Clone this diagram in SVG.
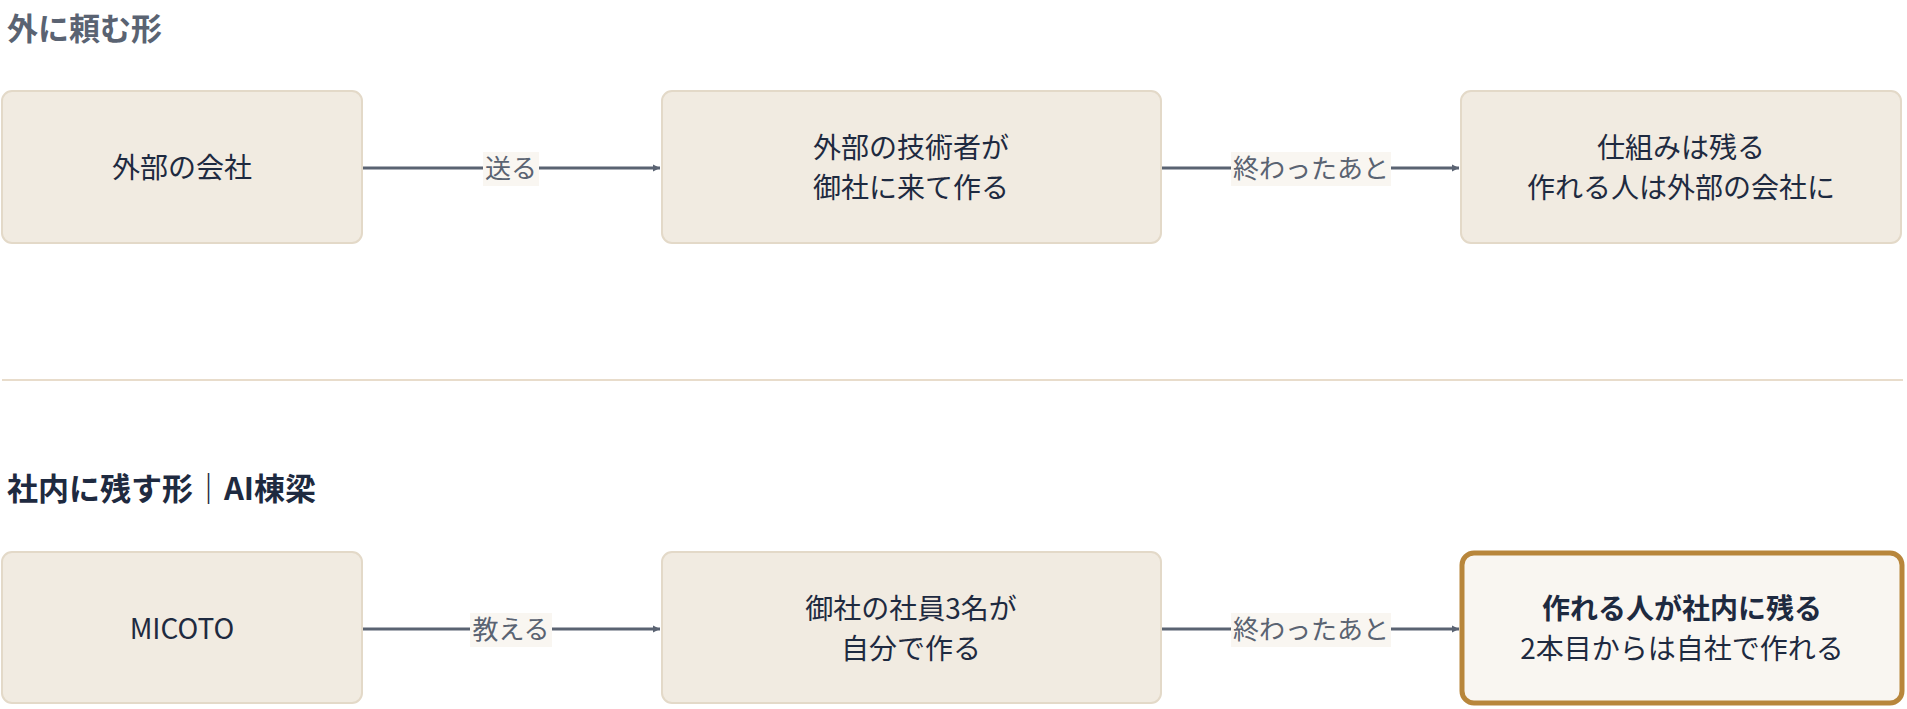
<svg xmlns="http://www.w3.org/2000/svg" width="1907" height="709" viewBox="0 0 1907 709">
<defs>
<marker id="ah" viewBox="0 0 10 10" refX="10" refY="5" markerWidth="7" markerHeight="7" orient="auto" markerUnits="userSpaceOnUse" style="overflow:visible">
<path d="M0,0 L10,5 L0,10 z" fill="#5a6372"/>
</marker>
</defs>
<style>
text{font-family:"Noto Sans CJK JP","Liberation Sans",sans-serif;}
.box{fill:#f1ebe1;stroke:#e3d9c8;stroke-width:2;}
.hl{fill:#f9f6f1;stroke:#b8863b;stroke-width:5;}
.t{font-size:28px;fill:#1e2a40;text-anchor:middle;}
.b{font-weight:bold;}
.h{font-size:31px;font-weight:bold;}
.e{stroke:#5a6372;stroke-width:3;fill:none;}
.lb{fill:#f9f6f1;}
.lt{font-size:26px;fill:#5a6372;text-anchor:middle;}
</style>
<rect width="1907" height="709" fill="#fff"/>
<text x="7" y="40" class="h" fill="#5a6372">外に頼む形</text>
<line x1="2" y1="380" x2="1903" y2="380" stroke="#e8dccb" stroke-width="2"/>
<text x="7" y="500" class="h" fill="#1e2a40">社内に残す形｜AI棟梁</text>
<g id="connectors">
<line class="e" x1="362" y1="168" x2="660" y2="168" marker-end="url(#ah)"/>
<rect class="lb" x="483" y="152" width="56" height="34"/><text class="lt" x="511" y="178">送る</text>
<line class="e" x1="1161" y1="168" x2="1459" y2="168" marker-end="url(#ah)"/>
<rect class="lb" x="1231" y="152" width="160" height="34"/><text class="lt" x="1311" y="178">終わったあと</text>
<line class="e" x1="362" y1="629" x2="660" y2="629" marker-end="url(#ah)"/>
<rect class="lb" x="470" y="613" width="82" height="34"/><text class="lt" x="511" y="639">教える</text>
<line class="e" x1="1161" y1="629" x2="1459" y2="629" marker-end="url(#ah)"/>
<rect class="lb" x="1231" y="613" width="160" height="34"/><text class="lt" x="1311" y="639">終わったあと</text>
</g>
<g id="n1"><rect class="box" x="2" y="91" width="360" height="152" rx="10"/><text class="t" x="182" y="178">外部の会社</text></g>
<g id="n2"><rect class="box" x="662" y="91" width="499" height="152" rx="10"/><text class="t" x="911" y="158">外部の技術者が</text><text class="t" x="911" y="198">御社に来て作る</text></g>
<g id="n3"><rect class="box" x="1461" y="91" width="440" height="152" rx="10"/><text class="t" x="1681" y="158">仕組みは残る</text><text class="t" x="1681" y="198">作れる人は外部の会社に</text></g>
<g id="n4"><rect class="box" x="2" y="552" width="360" height="151" rx="10"/><text class="t" x="182" y="639">MICOTO</text></g>
<g id="n5"><rect class="box" x="662" y="552" width="499" height="151" rx="10"/><text class="t" x="911" y="619">御社の社員3名が</text><text class="t" x="911" y="659">自分で作る</text></g>
<g id="n6"><rect class="hl" x="1462" y="553" width="440" height="150" rx="12"/><text class="t b" x="1682" y="619">作れる人が社内に残る</text><text class="t" x="1682" y="659">2本目からは自社で作れる</text></g>
</svg>
